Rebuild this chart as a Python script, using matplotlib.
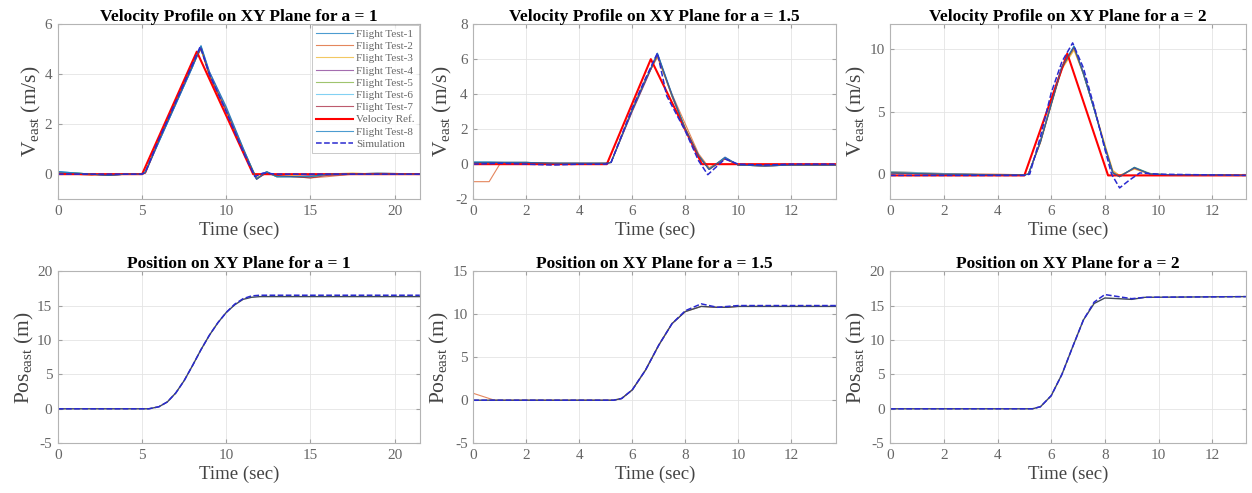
import matplotlib
matplotlib.use("Agg")
import matplotlib.pyplot as plt

plt.rcParams['font.family'] = ['Liberation Serif', 'DejaVu Serif']
plt.rcParams['mathtext.fontset'] = 'custom'
plt.rcParams['mathtext.rm'] = 'Liberation Serif'
plt.rcParams['mathtext.it'] = 'Liberation Serif:italic'
plt.rcParams['axes.unicode_minus'] = False

# MATLAB default line colours, Flight Test-8 wraps back to the first one
test_colors = ['#0072BD', '#D95319', '#EDB120', '#7E2F8E',
               '#77AC30', '#4DBEEE', '#A2142F', '#0072BD']
test_names = ['Flight Test-%d' % i for i in range(1, 9)]

# ---------------- velocity, a = 1 ----------------
t_v1 = [0, 1, 2, 3, 4, 5.0, 5.2, 6.0, 7.0, 8.0, 8.5, 9.0, 10.0, 11.0,
        11.8, 12.4, 13.0, 14.0, 15.0, 16.0, 17.5, 19.0, 21.5]
v1_tests = [
    [0.10, 0.05, 0.00, -0.05, 0.00, 0.00, 0.10, 1.30, 2.80, 4.30, 5.10, 4.00, 2.60, 1.00, -0.20, 0.10, -0.10, -0.10, -0.10, 0.00, 0.00, 0.00, 0.00],
    [0.05, 0.00, -0.05, 0.00, 0.00, 0.00, 0.05, 1.40, 2.90, 4.40, 5.00, 3.90, 2.50, 0.90, -0.15, 0.05, -0.05, -0.10, -0.15, -0.10, 0.00, 0.05, 0.00],
    [0.00, 0.05, 0.00, -0.05, 0.00, 0.00, 0.10, 1.35, 2.85, 4.35, 5.05, 4.00, 2.55, 0.95, -0.20, 0.10, -0.10, -0.05, -0.10, 0.00, 0.05, 0.00, 0.00],
    [0.10, 0.00, 0.00, -0.05, 0.00, 0.00, 0.05, 1.30, 2.80, 4.30, 5.10, 4.10, 2.65, 1.05, -0.20, 0.10, -0.10, -0.10, -0.05, 0.00, 0.00, 0.00, 0.00],
    [0.05, 0.05, 0.00, 0.00, 0.00, 0.00, 0.10, 1.40, 2.90, 4.40, 5.00, 4.00, 2.60, 1.00, -0.15, 0.05, -0.10, -0.10, -0.10, 0.00, 0.00, 0.00, 0.00],
    [0.10, 0.05, 0.00, -0.05, 0.00, 0.00, 0.10, 1.30, 2.80, 4.30, 5.10, 4.05, 2.60, 1.00, -0.20, 0.10, -0.10, -0.10, -0.10, -0.05, 0.00, 0.05, 0.00],
    [0.05, 0.00, 0.00, -0.05, 0.00, 0.00, 0.05, 1.35, 2.85, 4.35, 5.05, 3.95, 2.55, 0.95, -0.20, 0.05, -0.05, -0.10, -0.15, -0.05, 0.00, 0.00, 0.00],
    [0.10, 0.05, 0.00, -0.05, 0.00, 0.00, 0.10, 1.30, 2.80, 4.30, 5.15, 4.10, 2.70, 1.05, -0.20, 0.10, -0.10, -0.10, -0.10, 0.00, 0.00, 0.00, 0.00],
]
t_ref1 = [0, 5.0, 8.25, 11.6, 21.5]
v_ref1 = [0, 0, 4.9, 0, 0]
t_sim_v1 = [0, 5.0, 5.2, 6.0, 7.0, 8.0, 8.45, 9.0, 10.0, 11.0, 11.7, 12.2, 13.0, 21.5]
v_sim1 = [0, 0, 0.1, 1.4, 2.9, 4.4, 5.1, 4.0, 2.5, 0.9, -0.1, 0.05, 0, 0]

# ---------------- velocity, a = 1.5 ----------------
t_v2 = [0, 0.6, 1.0, 2, 3, 4, 5.0, 5.2, 6.0, 6.5, 6.95, 7.5, 8.0, 8.5,
        8.9, 9.5, 10.0, 11, 12, 13.7]
v2_tests = [
    [0.10, 0.10, 0.10, 0.10, 0.05, 0.05, 0.05, 0.10, 3.10, 4.80, 6.30, 3.90, 2.00, 0.50, -0.30, 0.35, -0.05, -0.10, -0.05, -0.05],
    [-1.00, -1.00, 0.00, 0.05, 0.05, 0.00, 0.05, 0.10, 3.20, 4.90, 6.10, 4.00, 2.30, 0.60, -0.20, 0.30, -0.05, -0.10, -0.05, -0.05],
    [0.05, 0.05, 0.05, 0.10, 0.05, 0.05, 0.05, 0.10, 3.10, 4.80, 6.25, 3.90, 2.10, 0.50, -0.30, 0.35, -0.05, -0.10, -0.05, -0.05],
    [0.10, 0.10, 0.10, 0.05, 0.05, 0.05, 0.05, 0.10, 3.00, 4.70, 6.30, 3.95, 2.00, 0.45, -0.30, 0.40, -0.05, -0.10, -0.05, -0.05],
    [0.10, 0.10, 0.10, 0.10, 0.05, 0.05, 0.05, 0.10, 3.10, 4.80, 6.20, 3.85, 2.05, 0.50, -0.25, 0.35, -0.05, -0.05, -0.05, -0.05],
    [0.15, 0.15, 0.10, 0.10, 0.05, 0.05, 0.05, 0.10, 3.10, 4.80, 6.30, 3.90, 2.00, 0.50, -0.30, 0.35, -0.05, -0.10, -0.05, -0.05],
    [0.10, 0.10, 0.10, 0.10, 0.05, 0.05, 0.05, 0.10, 3.05, 4.75, 6.25, 3.90, 2.00, 0.50, -0.30, 0.30, -0.05, -0.10, -0.05, -0.05],
    [0.10, 0.10, 0.10, 0.10, 0.05, 0.05, 0.05, 0.10, 3.10, 4.80, 6.35, 4.00, 2.00, 0.50, -0.30, 0.40, -0.05, -0.10, -0.05, -0.05],
]
t_ref2 = [0, 5.04, 6.7, 8.63, 13.7]
v_ref2 = [0, 0, 6.0, 0, 0]
t_sim_v2 = [0, 1, 2, 3, 4, 5.0, 5.2, 6.0, 6.5, 6.95, 7.3, 8.0, 8.5, 8.85, 9.5, 10.0, 11, 12, 13.7]
v_sim2 = [0, 0.05, 0, -0.05, 0, 0, 0.1, 3.2, 4.9, 6.35, 3.9, 1.9, 0.2, -0.6, 0.3, 0, -0.05, 0, 0]

# ---------------- velocity, a = 2 ----------------
t_v3 = [0, 2, 4, 5.0, 5.15, 5.6, 6.0, 6.4, 6.85, 7.2, 7.6, 8.0, 8.3,
        8.55, 9.1, 9.7, 10.5, 12, 13.25]
v3_tests = [
    [0.10, 0.00, -0.05, -0.05, 0.00, 2.60, 5.60, 8.60, 10.20, 8.00, 5.20, 2.20, 0.10, -0.20, 0.50, 0.00, -0.05, -0.05, -0.10],
    [0.20, 0.05, 0.00, -0.05, 0.00, 2.70, 5.70, 8.50, 10.00, 8.10, 5.30, 2.30, 0.20, -0.10, 0.45, 0.00, -0.05, -0.05, -0.10],
    [0.10, 0.00, -0.05, -0.05, 0.00, 2.50, 5.50, 8.40, 9.90, 8.00, 5.30, 2.40, 0.30, -0.10, 0.40, 0.00, -0.05, -0.05, -0.10],
    [0.10, 0.00, -0.05, -0.05, 0.00, 2.60, 5.60, 8.60, 10.20, 8.10, 5.20, 2.20, 0.10, -0.20, 0.50, 0.00, -0.05, -0.05, -0.10],
    [0.15, 0.00, -0.05, -0.05, 0.00, 2.60, 5.60, 8.50, 10.10, 8.00, 5.20, 2.20, 0.10, -0.20, 0.55, 0.05, -0.05, -0.05, -0.10],
    [0.20, 0.05, -0.05, -0.05, 0.00, 2.60, 5.60, 8.60, 10.20, 8.00, 5.20, 2.20, 0.10, -0.20, 0.50, 0.00, -0.05, -0.05, -0.10],
    [0.10, 0.00, -0.05, -0.05, 0.00, 2.55, 5.55, 8.55, 10.15, 8.05, 5.25, 2.20, 0.10, -0.20, 0.50, 0.00, -0.05, -0.05, -0.10],
    [0.10, 0.00, -0.05, -0.05, 0.00, 2.60, 5.60, 8.60, 10.25, 8.10, 5.20, 2.20, 0.10, -0.20, 0.55, 0.00, -0.05, -0.05, -0.10],
]
t_ref3 = [0, 5.0, 6.6, 8.12, 13.25]
v_ref3 = [-0.1, -0.1, 9.65, -0.1, -0.1]
t_sim_v3 = [0, 5.0, 5.2, 5.6, 6.0, 6.4, 6.8, 7.2, 7.6, 8.0, 8.25, 8.55, 8.9, 9.3, 10.0, 13.25]
v_sim3 = [-0.1, -0.1, 0, 3.0, 6.5, 9.0, 10.5, 8.5, 5.4, 2.0, 0.0, -1.1, -0.5, 0.1, 0, -0.1]

# ---------------- position ----------------
t_p1 = [0, 5.4, 6.0, 6.5, 7.0, 7.5, 8.0, 8.5, 9.0, 9.5, 10.0, 10.5, 11.0, 11.5, 12.0, 21.5]
p1_flight = [0, 0, 0.3, 1.0, 2.3, 4.1, 6.3, 8.6, 10.7, 12.5, 14.0, 15.1, 15.9, 16.2, 16.3, 16.3]
p1_sim = [0, 0, 0.3, 1.0, 2.3, 4.1, 6.3, 8.6, 10.7, 12.5, 14.0, 15.2, 16.0, 16.4, 16.5, 16.5]

t_p2 = [0, 0.8, 5.3, 5.6, 6.0, 6.5, 7.0, 7.5, 8.0, 8.6, 9.2, 9.6, 10, 13.7]
p2_flight = [0, 0, 0, 0.2, 1.2, 3.5, 6.4, 8.9, 10.3, 10.9, 10.8, 10.8, 10.9, 10.9]
p2_sim = [0, 0, 0, 0.2, 1.2, 3.5, 6.4, 8.9, 10.4, 11.2, 10.8, 10.9, 11.0, 11.0]
p2_test2 = [0.8, 0, 0, 0.2, 1.2, 3.5, 6.4, 8.9, 10.3, 10.9, 10.8, 10.8, 10.9, 10.9]

t_p3 = [0, 5.3, 5.6, 6.0, 6.4, 6.8, 7.2, 7.6, 8.0, 8.5, 9.0, 9.5, 13.25]
p3_flight = [0, 0, 0.3, 1.9, 5.0, 9.0, 12.9, 15.3, 16.1, 16.0, 15.9, 16.2, 16.3]
p3_sim = [0, 0, 0.3, 1.9, 5.0, 9.0, 12.9, 15.5, 16.6, 16.3, 16.0, 16.2, 16.3]

vel_panels = [
    ('1', t_v1, v1_tests, t_ref1, v_ref1, t_sim_v1, v_sim1, 21.5, (-1, 6), [0, 2, 4, 6], [0, 5, 10, 15, 20]),
    ('1.5', t_v2, v2_tests, t_ref2, v_ref2, t_sim_v2, v_sim2, 13.7, (-2, 8), [-2, 0, 2, 4, 6, 8], [0, 2, 4, 6, 8, 10, 12]),
    ('2', t_v3, v3_tests, t_ref3, v_ref3, t_sim_v3, v_sim3, 13.25, (-2, 12), [0, 5, 10], [0, 2, 4, 6, 8, 10, 12]),
]
pos_panels = [
    ('1', t_p1, p1_flight, p1_sim, None, 21.5, (-5, 20), [-5, 0, 5, 10, 15, 20], [0, 5, 10, 15, 20]),
    ('1.5', t_p2, p2_flight, p2_sim, p2_test2, 13.7, (-5, 15), [-5, 0, 5, 10, 15], [0, 2, 4, 6, 8, 10, 12]),
    ('2', t_p3, p3_flight, p3_sim, None, 13.25, (-5, 20), [-5, 0, 5, 10, 15, 20], [0, 2, 4, 6, 8, 10, 12]),
]

fig = plt.figure(figsize=(12.52, 4.93), dpi=100)
lefts = [0.0463, 0.378, 0.711]
widths = [0.289, 0.290, 0.284]


def style_axes(ax, xmax, ylim, yticks, xticks):
    ax.set_xlim(0, xmax)
    ax.set_ylim(*ylim)
    ax.set_yticks(yticks)
    ax.set_xticks(xticks)
    ax.grid(True, color='#e4e4e4', linewidth=0.6)
    ax.set_axisbelow(True)
    ax.tick_params(direction='in', top=True, right=True, length=3,
                   labelsize=11, colors='#a0a0a0', labelcolor='#666666', pad=4)
    for s in ax.spines.values():
        s.set_color('#b4b4b4')
        s.set_linewidth(0.8)
    ax.set_xlabel('Time (sec)', fontsize=13.5, color='#444444', labelpad=3)


for i, (a, t, tests, tr, vr, ts, vs, xmax, ylim, yt, xt) in enumerate(vel_panels):
    ax = fig.add_axes([lefts[i], 0.596, widths[i], 0.355])
    for k in range(7):
        ax.plot(t, tests[k], color=test_colors[k], lw=0.8, alpha=0.7, label=test_names[k])
    ax.plot(tr, vr, color='#FF0000', lw=1.5, label='Velocity Ref.')
    ax.plot(t, tests[7], color=test_colors[7], lw=0.8, alpha=0.7, label=test_names[7])
    ax.plot(ts, vs, '--', color='#2a2ad0', lw=1.1, label='Simulation')
    style_axes(ax, xmax, ylim, yt, xt)
    ax.set_title('Velocity Profile on XY Plane for a = %s' % a,
                 fontsize=12.5, fontweight='bold', pad=2)
    ax.set_ylabel(r'V$_{\mathrm{east}}$ (m/s)', fontsize=15.5, color='#444444', labelpad=1)
    if i == 0:
        leg = ax.legend(loc='upper right', fontsize=8, frameon=True, fancybox=False,
                        borderaxespad=0.1, handlelength=3.3, handletextpad=0.3,
                        labelspacing=0.22, borderpad=0.35)
        leg.get_frame().set_edgecolor('#b0b0b0')
        leg.get_frame().set_linewidth(0.6)
        for txt in leg.get_texts():
            txt.set_color('#666666')

for i, (a, t, pf, ps, p2, xmax, ylim, yt, xt) in enumerate(pos_panels):
    ax = fig.add_axes([lefts[i], 0.101, widths[i], 0.349])
    if p2 is not None:
        ax.plot(t, p2, color=test_colors[1], lw=0.8, alpha=0.7)
    ax.plot(t, pf, color='#404a5a', lw=1.0)
    ax.plot(t, ps, '--', color='#2a2ad0', lw=1.1)
    style_axes(ax, xmax, ylim, yt, xt)
    ax.set_title('Position on XY Plane for a = %s' % a,
                 fontsize=12.5, fontweight='bold', pad=2)
    ax.set_ylabel(r'Pos$_{\mathrm{east}}$ (m)', fontsize=15.5, color='#444444', labelpad=1)

fig.savefig('out.png', dpi=100)
